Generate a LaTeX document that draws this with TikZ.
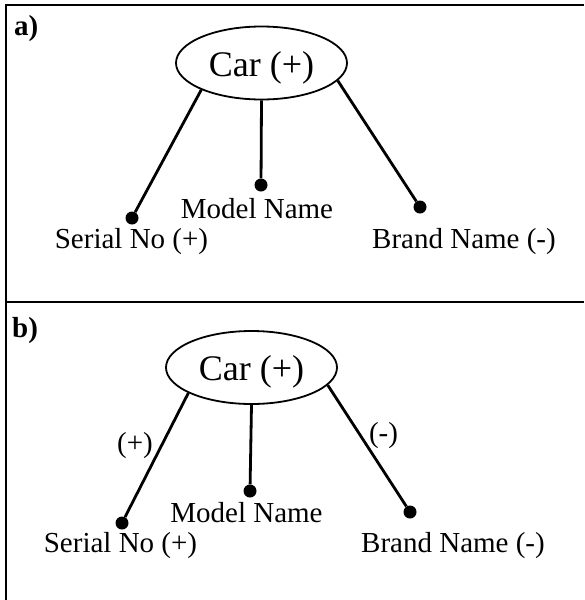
\documentclass[tikz,border=0pt]{standalone}
\usepackage{fontspec}
\setmainfont{Liberation Serif}
\usetikzlibrary{shapes.geometric}
\begin{document}
\begin{tikzpicture}[x=1pt,y=-1pt,
  frame/.style={line width=2pt},
  entity/.style={draw, ellipse, line width=1.8pt, inner sep=0pt,
    minimum width=171pt, minimum height=73pt,
    text height=26pt, text depth=0pt,
    font=\fontsize{36}{40}\selectfont},
  attr/.style={circle, fill=black, inner sep=0pt, minimum size=13pt},
  link/.style={line width=2.8pt},
  lbl/.style={anchor=base, inner sep=0pt, font=\fontsize{29}{32}\selectfont},
  tag/.style={inner sep=0pt, font=\fontsize{29}{32}\selectfont},
  panel/.style={anchor=base west, inner sep=0pt, font=\fontsize{29}{31}\selectfont\bfseries}]
\useasboundingbox (0,0) rectangle (584,600);

% table rules
\coordinate (topR) at (584,5);
\coordinate (topL) at (6,5);
\coordinate (botL) at (6,600);
\coordinate (midL) at (6,302);
\coordinate (midR) at (584,302);
\draw[frame] (topR) -- (topL) -- (botL);
\draw[frame] (midL) -- (midR);

% panel a
\node[panel] (pa) at (14,35) {a)};
\node[entity] (cara) at (261.5,63) {Car (+)};
\node[attr] (sa) at (132,218) {};
\node[attr] (ma) at (261,185) {};
\node[attr] (ba) at (420,207) {};
\draw[link] (cara.204) -- (sa);
\draw[link] (cara.south) -- (ma);
\draw[link] (cara.347) -- (ba);
\node[lbl] (sal) at (131.5,248) {Serial No (+)};
\node[lbl] (mal) at (257,218) {Model Name};
\node[lbl] (bal) at (464,248) {Brand Name (-)};

% panel b
\node[panel] (pb) at (12,337) {b)};
\node[entity] (carb) at (251.5,367.5) {Car (+)};
\node[attr] (sb) at (122,523) {};
\node[attr] (mb) at (250,491) {};
\node[attr] (bb) at (410,512) {};
\draw[link] (carb.202) -- (sb);
\draw[link] (carb.south) -- (mb);
\draw[link] (carb.347) -- (bb);
\node[tag] (tp) at (135,446) {(+)};
\node[tag] (tm) at (383.5,436) {(-)};
\node[lbl] (sbl) at (120.5,552) {Serial No (+)};
\node[lbl] (mbl) at (246.5,522) {Model Name};
\node[lbl] (bbl) at (453,552) {Brand Name (-)};
\end{tikzpicture}
\end{document}
